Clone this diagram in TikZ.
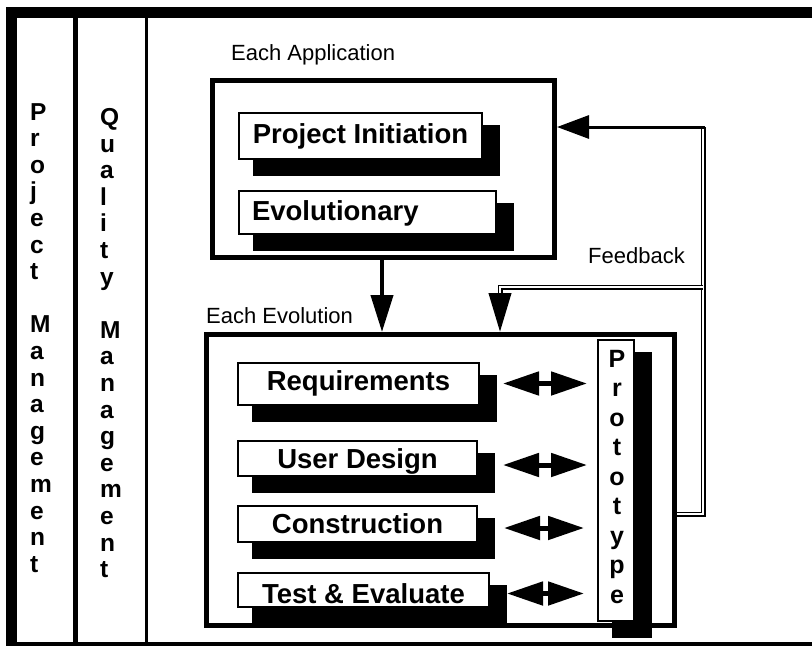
\documentclass[tikz,border=0pt]{standalone}
\usepackage{fontspec}
\setmainfont{Liberation Sans}
\usetikzlibrary{arrows.meta,backgrounds}
\newcommand\boxfont{\bfseries\fontsize{27.5}{30}\selectfont}
\newcommand\vertfont{\bfseries\fontsize{24.5}{26}\selectfont}
\newcommand\protofont{\bfseries\fontsize{25}{27}\selectfont}
\newcommand\lblfont{\fontsize{22}{24}\selectfont}
\begin{document}
\begin{tikzpicture}[x=1pt,y=-1pt,
  bigbox/.style={draw, line width=5pt, inner sep=0pt},
  wbox/.style={draw, line width=2pt, fill=white, inner sep=0pt, text depth=0pt, font=\boxfont, align=center},
  lbl/.style={font=\lblfont, inner sep=0pt, anchor=base west},
  vlet/.style={font=\vertfont, inner sep=0pt, anchor=base west},
  plet/.style={font=\protofont, inner sep=0pt, anchor=base},
  fwd/.style={line width=4pt, -{Triangle[width=22pt,length=37pt]}},
  fbarrow/.style={line width=3pt, -{Triangle[width=23pt,length=32pt]}},
  brarrow/.style={line width=4pt, -{Triangle[width=22pt,length=39pt]}},
  dbl/.style={double=white, double distance=2pt, line width=1.5pt},
  twoway/.style={line width=5pt, {Triangle[width=23pt,length=36pt]}-{Triangle[width=23pt,length=36pt]}},
  shadowfill/.style={fill=black}]
\useasboundingbox (0,0) rectangle (812,646);

% frame and column dividers
\fill (6,7) rectangle (812,18);
\fill (6,7) rectangle (17,646);
\fill (6,642) rectangle (812,646);
\fill (73,18) rectangle (78,642);
\fill (145,18) rectangle (147.5,642);

% vertical column labels
\foreach \c/\i in {P/0,r/1,o/2,j/3,e/4,c/5,t/6,M/8,a/9,n/10,a/11,g/12,e/13,m/14,e/15,n/16,t/17}
  \node[vlet] (pm\i) at (30,120+26.6*\i) {\c};
\foreach \c/\i in {Q/0,u/1,a/2,l/3,i/4,t/5,y/6,M/8,a/9,n/10,a/11,g/12,e/13,m/14,e/15,n/16,t/17}
  \node[vlet] (qm\i) at (100,125.5+26.6*\i) {\c};

% titles
\node[lbl] (tapp) at (231,60) {Each Application};
\node[lbl] (tevo) at (206,323) {Each Evolution};
\node[lbl] (tfb) at (588,263) {Feedback};

% outer boxes
\node[bigbox, minimum width=342pt, minimum height=177pt] (app) at (383.5,169) {};
\node[bigbox, minimum width=468pt, minimum height=291pt] (evo) at (440.5,480) {};

% inner boxes
\node[wbox, minimum width=243pt, minimum height=46pt, text height=14pt] (pi) at (360.5,136) {Project Initiation};
\node[wbox, text width=231pt, inner xsep=13pt, align=left, minimum height=43pt, text height=15pt] (evol) at (367.5,212.5) {Evolutionary};
\node[wbox, minimum width=241pt, minimum height=42pt, text height=12pt] (req) at (358.5,384) {Requirements};
\node[wbox, minimum width=239pt, minimum height=35pt, text height=19pt] (ud) at (357.5,458.5) {User Design};
\node[wbox, minimum width=239pt, minimum height=36pt, text height=18pt] (con) at (357.5,524) {Construction};
\node[wbox, minimum width=251pt, minimum height=34pt, text height=26pt] (test) at (363.5,590) {Test \& Evaluate};
\node[wbox, minimum width=36pt, minimum height=281pt] (proto) at (616,480.5) {};
\foreach \c/\i in {P/0,r/1,o/2,t/3,o/4,t/5,y/6,p/7,e/8}
  \node[plet] (pt\i) at (617,367+29.5*\i) {\c};

% shadows
\begin{scope}[on background layer]
  \foreach \n in {pi,evol,req,ud,con,test,proto}
    \fill[shadowfill] ([shift={(15,13)}]\n.north west) rectangle ([shift={(17,16)}]\n.south east);
\end{scope}

% application -> evolution
\draw[fwd] ([xshift=-1.5pt]app.south) -- ([xshift=-1.5pt]app.south |- evo.north);

% feedback loop
\coordinate (fbA) at (703,514);
\coordinate (fbB) at (703,127);
\coordinate (fbC) at (703,287);
\coordinate (fbD) at (500,287);
\coordinate (fbE) at (500,293);
\draw[dbl] (evo.east |- fbA) -- (fbA) -- (fbB);
\draw[fbarrow] ([xshift=1.5pt]fbB) -- (app.east |- fbB);
\draw[dbl] (fbC) -- (fbD) -- (fbE);
\draw[brarrow] (fbE) -- (fbE |- evo.north);

% two-way arrows to prototype
\draw[twoway, shorten <=23pt, shorten >=10pt] ([yshift=0.5pt]req.east) -- ([yshift=0.5pt]req.east -| proto.west);
\draw[twoway, shorten <=25pt, shorten >=10pt] ([yshift=-6.5pt]ud.east) -- ([yshift=-6.5pt]ud.east -| proto.west);
\draw[twoway, shorten <=26pt, shorten >=13pt] ([yshift=-4pt]con.east) -- ([yshift=-4pt]con.east -| proto.west);
\draw[twoway, shorten <=17pt, shorten >=13pt] ([yshift=-3.5pt]test.east) -- ([yshift=-3.5pt]test.east -| proto.west);
\end{tikzpicture}
\end{document}
